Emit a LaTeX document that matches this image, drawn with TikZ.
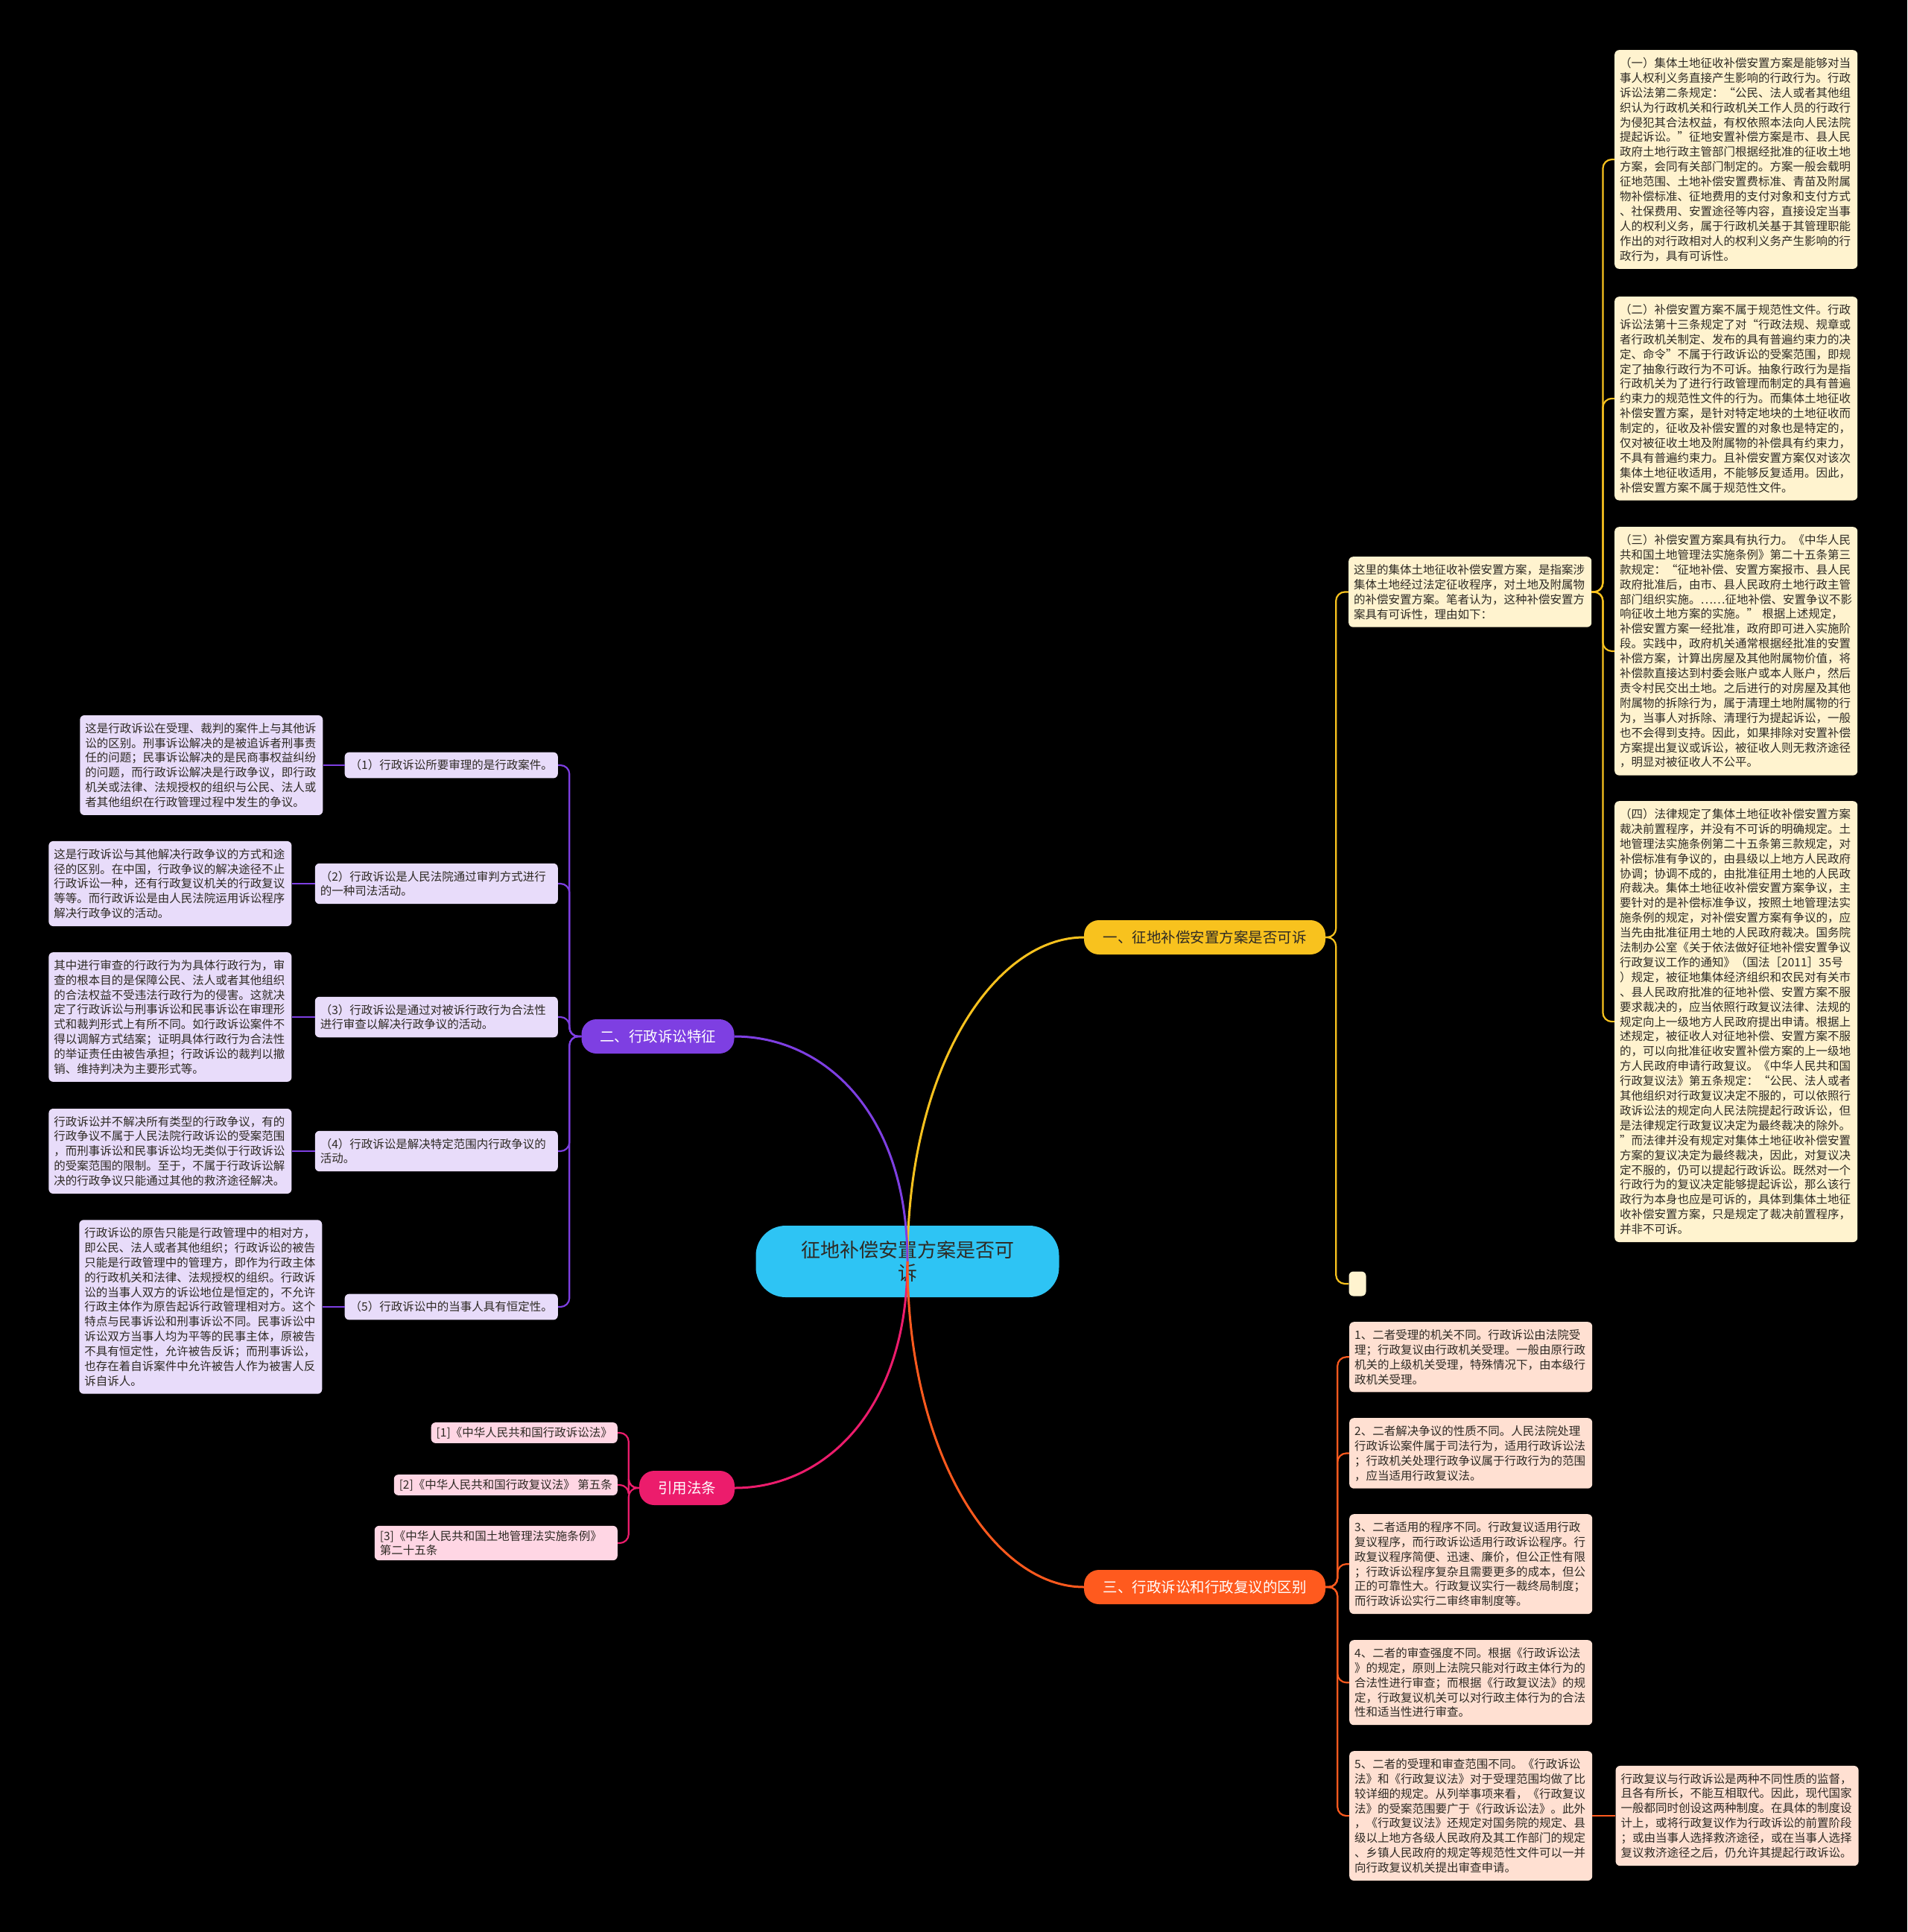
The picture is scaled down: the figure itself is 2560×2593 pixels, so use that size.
\documentclass[tikz,border=0pt]{standalone}
\usepackage{fontspec}
\setmainfont{Noto Sans CJK SC}
\usetikzlibrary{positioning}
\definecolor{CBack}{HTML}{000000}
\definecolor{CInk}{HTML}{2E2A24}
\definecolor{CRoot}{HTML}{2EC4F4}
\definecolor{CGold}{HTML}{F8C21E}
\definecolor{CGoldLight}{HTML}{FFF3CF}
\definecolor{CViolet}{HTML}{7E3FE2}
\definecolor{CVioletLight}{HTML}{E8DCFA}
\definecolor{CRose}{HTML}{EC1C6C}
\definecolor{CRoseLight}{HTML}{FFD6E4}
\definecolor{COrange}{HTML}{FF5A1E}
\definecolor{COrangeLight}{HTML}{FFE0D2}

\tikzset{
  root/.style={fill=CRoot, text=CInk, rounded corners=40pt, minimum width=407pt,
    minimum height=96pt, align=center, font=\fontsize{26pt}{31pt}\selectfont},
  topic/.style={rounded corners=20pt, minimum height=46pt, inner xsep=12pt,
    font=\fontsize{19.5pt}{24pt}\selectfont},
  leaf/.style={rounded corners=6pt, align=left, inner xsep=7pt, inner ysep=10pt,
    text=CInk, font=\fontsize{15.5pt}{19.9pt}\selectfont},
  wide/.style={text width=312pt},
  link/.style={line width=3pt},
  twig/.style={line width=2.2pt, rounded corners=12pt},
}

\begin{document}
\begin{tikzpicture}[x=1pt, y=-1pt]

  % background
  \fill[CBack] (0,0) rectangle (2560,2593);
  \useasboundingbox (0,0) rectangle (2560,2593);

  % ============================================
  % ROOT AND MAIN TOPICS
  % ============================================
  \node[root] (root) at (1218,1693) {征地补偿安置方案是否可\\诉};

  \node[topic, fill=CGold, text=CInk, minimum width=324pt] (b1) at (1617,1258) {一、征地补偿安置方案是否可诉};
  \node[topic, fill=CViolet, text=white, minimum width=205pt] (b2) at (883,1391) {二、行政诉讼特征};
  \node[topic, fill=CRose, text=white, minimum width=128pt] (bref) at (922,1997) {引用法条};
  \node[topic, fill=COrange, text=white, minimum width=324pt] (b3) at (1617,2130) {三、行政诉讼和行政复议的区别};

  % ============================================
  % BRANCH 1: is the plan suable
  % ============================================
  \node[leaf, wide, fill=CGoldLight, anchor=north west] (intro) at (1810,747) {这里的集体土地征收补偿安置方案，是指案涉\\集体土地经过法定征收程序，对土地及附属物\\的补偿安置方案。笔者认为，这种补偿安置方\\案具有可诉性，理由如下：};
  \node[leaf, fill=CGoldLight, minimum width=23pt, minimum height=33pt, inner sep=0pt] (gap) at (1822,1723) {};

  \node[leaf, wide, fill=CGoldLight, anchor=north west] (sub1) at (2167,67) {（一）集体土地征收补偿安置方案是能够对当\\事人权利义务直接产生影响的行政行为。行政\\诉讼法第二条规定：“公民、法人或者其他组\\织认为行政机关和行政机关工作人员的行政行\\为侵犯其合法权益，有权依照本法向人民法院\\提起诉讼。”征地安置补偿方案是市、县人民\\政府土地行政主管部门根据经批准的征收土地\\方案，会同有关部门制定的。方案一般会载明\\征地范围、土地补偿安置费标准、青苗及附属\\物补偿标准、征地费用的支付对象和支付方式\\、社保费用、安置途径等内容，直接设定当事\\人的权利义务，属于行政机关基于其管理职能\\作出的对行政相对人的权利义务产生影响的行\\政行为，具有可诉性。};
  \node[leaf, wide, fill=CGoldLight, anchor=north west] (sub2) at (2167,398) {（二）补偿安置方案不属于规范性文件。行政\\诉讼法第十三条规定了对“行政法规、规章或\\者行政机关制定、发布的具有普遍约束力的决\\定、命令”不属于行政诉讼的受案范围，即规\\定了抽象行政行为不可诉。抽象行政行为是指\\行政机关为了进行行政管理而制定的具有普遍\\约束力的规范性文件的行为。而集体土地征收\\补偿安置方案，是针对特定地块的土地征收而\\制定的，征收及补偿安置的对象也是特定的，\\仅对被征收土地及附属物的补偿具有约束力，\\不具有普遍约束力。且补偿安置方案仅对该次\\集体土地征收适用，不能够反复适用。因此，\\补偿安置方案不属于规范性文件。};
  \node[leaf, wide, fill=CGoldLight, anchor=north west] (sub3) at (2167,707) {（三）补偿安置方案具有执行力。《中华人民\\共和国土地管理法实施条例》第二十五条第三\\款规定：“征地补偿、安置方案报市、县人民\\政府批准后，由市、县人民政府土地行政主管\\部门组织实施。……征地补偿、安置争议不影\\响征收土地方案的实施。” 根据上述规定，\\补偿安置方案一经批准，政府即可进入实施阶\\段。实践中，政府机关通常根据经批准的安置\\补偿方案，计算出房屋及其他附属物价值，将\\补偿款直接达到村委会账户或本人账户，然后\\责令村民交出土地。之后进行的对房屋及其他\\附属物的拆除行为，属于清理土地附属物的行\\为，当事人对拆除、清理行为提起诉讼，一般\\也不会得到支持。因此，如果排除对安置补偿\\方案提出复议或诉讼，被征收人则无救济途径\\，明显对被征收人不公平。};
  \node[leaf, wide, fill=CGoldLight, anchor=north west] (sub4) at (2167,1075) {（四）法律规定了集体土地征收补偿安置方案\\裁决前置程序，并没有不可诉的明确规定。土\\地管理法实施条例第二十五条第三款规定，对\\补偿标准有争议的，由县级以上地方人民政府\\协调；协调不成的，由批准征用土地的人民政\\府裁决。集体土地征收补偿安置方案争议，主\\要针对的是补偿标准争议，按照土地管理法实\\施条例的规定，对补偿安置方案有争议的，应\\当先由批准征用土地的人民政府裁决。国务院\\法制办公室《关于依法做好征地补偿安置争议\\行政复议工作的通知》（国法［2011］35号\\）规定，被征地集体经济组织和农民对有关市\\、县人民政府批准的征地补偿、安置方案不服\\要求裁决的，应当依照行政复议法律、法规的\\规定向上一级地方人民政府提出申请。根据上\\述规定，被征收人对征地补偿、安置方案不服\\的，可以向批准征收安置补偿方案的上一级地\\方人民政府申请行政复议。《中华人民共和国\\行政复议法》第五条规定：“公民、法人或者\\其他组织对行政复议决定不服的，可以依照行\\政诉讼法的规定向人民法院提起行政诉讼，但\\是法律规定行政复议决定为最终裁决的除外。\\”而法律并没有规定对集体土地征收补偿安置\\方案的复议决定为最终裁决，因此，对复议决\\定不服的，仍可以提起行政诉讼。既然对一个\\行政行为的复议决定能够提起诉讼，那么该行\\政行为本身也应是可诉的，具体到集体土地征\\收补偿安置方案，只是规定了裁决前置程序，\\并非不可诉。};

  % ============================================
  % BRANCH 2: features of administrative litigation
  % ============================================
  \node[leaf, fill=CVioletLight, anchor=east] (feat1) at (749,1027) {（1）行政诉讼所要审理的是行政案件。};
  \node[leaf, wide, fill=CVioletLight, anchor=east] (feat2) at (749,1186) {（2）行政诉讼是人民法院通过审判方式进行\\的一种司法活动。};
  \node[leaf, wide, fill=CVioletLight, anchor=east] (feat3) at (749,1365) {（3）行政诉讼是通过对被诉行政行为合法性\\进行审查以解决行政争议的活动。};
  \node[leaf, wide, fill=CVioletLight, anchor=east] (feat4) at (749,1545) {（4）行政诉讼是解决特定范围内行政争议的\\活动。};
  \node[leaf, fill=CVioletLight, anchor=east] (feat5) at (749,1754) {（5）行政诉讼中的当事人具有恒定性。};

  \node[leaf, wide, fill=CVioletLight, left=29pt of feat1] (note1) {这是行政诉讼在受理、裁判的案件上与其他诉\\讼的区别。刑事诉讼解决的是被追诉者刑事责\\任的问题；民事诉讼解决的是民商事权益纠纷\\的问题，而行政诉讼解决是行政争议，即行政\\机关或法律、法规授权的组织与公民、法人或\\者其他组织在行政管理过程中发生的争议。};
  \node[leaf, wide, fill=CVioletLight, left=31pt of feat2] (note2) {这是行政诉讼与其他解决行政争议的方式和途\\径的区别。在中国，行政争议的解决途径不止\\行政诉讼一种，还有行政复议机关的行政复议\\等等。而行政诉讼是由人民法院运用诉讼程序\\解决行政争议的活动。};
  \node[leaf, wide, fill=CVioletLight, left=31pt of feat3] (note3) {其中进行审查的行政行为为具体行政行为，审\\查的根本目的是保障公民、法人或者其他组织\\的合法权益不受违法行政行为的侵害。这就决\\定了行政诉讼与刑事诉讼和民事诉讼在审理形\\式和裁判形式上有所不同。如行政诉讼案件不\\得以调解方式结案；证明具体行政行为合法性\\的举证责任由被告承担；行政诉讼的裁判以撤\\销、维持判决为主要形式等。};
  \node[leaf, wide, fill=CVioletLight, left=31pt of feat4] (note4) {行政诉讼并不解决所有类型的行政争议，有的\\行政争议不属于人民法院行政诉讼的受案范围\\，而刑事诉讼和民事诉讼均无类似于行政诉讼\\的受案范围的限制。至于，不属于行政诉讼解\\决的行政争议只能通过其他的救济途径解决。};
  \node[leaf, wide, fill=CVioletLight, left=30pt of feat5] (note5) {行政诉讼的原告只能是行政管理中的相对方，\\即公民、法人或者其他组织；行政诉讼的被告\\只能是行政管理中的管理方，即作为行政主体\\的行政机关和法律、法规授权的组织。行政诉\\讼的当事人双方的诉讼地位是恒定的，不允许\\行政主体作为原告起诉行政管理相对方。这个\\特点与民事诉讼和刑事诉讼不同。民事诉讼中\\诉讼双方当事人均为平等的民事主体，原被告\\不具有恒定性，允许被告反诉；而刑事诉讼，\\也存在着自诉案件中允许被告人作为被害人反\\诉自诉人。};

  % ============================================
  % CITED LAWS
  % ============================================
  \node[leaf, fill=CRoseLight, inner ysep=6pt, anchor=east] (ref1) at (829,1923) {[1]《中华人民共和国行政诉讼法》};
  \node[leaf, fill=CRoseLight, inner ysep=6pt, anchor=east] (ref2) at (829,1993) {[2]《中华人民共和国行政复议法》 第五条};
  \node[leaf, wide, fill=CRoseLight, inner ysep=6pt, anchor=east] (ref3) at (829,2071) {[3]《中华人民共和国土地管理法实施条例》\\第二十五条};

  % ============================================
  % BRANCH 3: litigation vs. reconsideration
  % ============================================
  \node[leaf, wide, fill=COrangeLight, anchor=north west] (diff1) at (1811,1774) {1、二者受理的机关不同。行政诉讼由法院受\\理；行政复议由行政机关受理。一般由原行政\\机关的上级机关受理，特殊情况下，由本级行\\政机关受理。};
  \node[leaf, wide, fill=COrangeLight, anchor=north west] (diff2) at (1811,1903) {2、二者解决争议的性质不同。人民法院处理\\行政诉讼案件属于司法行为，适用行政诉讼法\\；行政机关处理行政争议属于行政行为的范围\\，应当适用行政复议法。};
  \node[leaf, wide, fill=COrangeLight, anchor=north west] (diff3) at (1811,2032) {3、二者适用的程序不同。行政复议适用行政\\复议程序，而行政诉讼适用行政诉讼程序。行\\政复议程序简便、迅速、廉价，但公正性有限\\；行政诉讼程序复杂且需要更多的成本，但公\\正的可靠性大。行政复议实行一裁终局制度；\\而行政诉讼实行二审终审制度等。};
  \node[leaf, wide, fill=COrangeLight, anchor=north west] (diff4) at (1811,2201) {4、二者的审查强度不同。根据《行政诉讼法\\》的规定，原则上法院只能对行政主体行为的\\合法性进行审查；而根据《行政复议法》的规\\定，行政复议机关可以对行政主体行为的合法\\性和适当性进行审查。};
  \node[leaf, wide, fill=COrangeLight, anchor=north west] (diff5) at (1811,2350) {5、二者的受理和审查范围不同。《行政诉讼\\法》和《行政复议法》对于受理范围均做了比\\较详细的规定。从列举事项来看，《行政复议\\法》的受案范围要广于《行政诉讼法》。此外\\，《行政复议法》还规定对国务院的规定、县\\级以上地方各级人民政府及其工作部门的规定\\、乡镇人民政府的规定等规范性文件可以一并\\向行政复议机关提出审查申请。};
  \node[leaf, wide, fill=COrangeLight, right=31pt of diff5] (diffnote) {行政复议与行政诉讼是两种不同性质的监督，\\且各有所长，不能互相取代。因此，现代国家\\一般都同时创设这两种制度。在具体的制度设\\计上，或将行政复议作为行政诉讼的前置阶段\\；或由当事人选择救济途径，或在当事人选择\\复议救济途径之后，仍允许其提起行政诉讼。};

  % ============================================
  % CONNECTORS
  % ============================================
  % root to topics
  \draw[link, CGold] (root.center) .. controls +(0,-260) and +(-120,0) .. (b1.west);
  \draw[link, CViolet] (root.center) .. controls +(0,-200) and +(120,0) .. (b2.east);
  \draw[link, CRose] (root.center) .. controls +(0,200) and +(120,0) .. (bref.east);
  \draw[link, COrange] (root.center) .. controls +(0,260) and +(-120,0) .. (b3.west);

  % branch 1
  \foreach \n in {intro, gap} {
    \draw[twig, CGold] (b1.east) -- ++(14,0) |- (\n.west);
  }
  \foreach \n in {sub1, sub2, sub3, sub4} {
    \draw[twig, CGold] (intro.east) -- ++(15,0) |- (\n.west);
  }

  % branch 2
  \foreach \i in {1,...,5} {
    \draw[twig, CViolet] (b2.west) -- ++(-16,0) |- (feat\i.east);
    \draw[twig, CViolet] (feat\i.west) -- (note\i.east);
  }

  % cited laws
  \foreach \i in {1,2,3} {
    \draw[twig, CRose] (bref.west) -- ++(-14,0) |- (ref\i.east);
  }

  % branch 3
  \foreach \i in {1,...,5} {
    \draw[twig, COrange] (b3.east) -- ++(16,0) |- (diff\i.west);
  }
  \draw[twig, COrange] (diff5.east) -- (diffnote.west);

\end{tikzpicture}
\end{document}
